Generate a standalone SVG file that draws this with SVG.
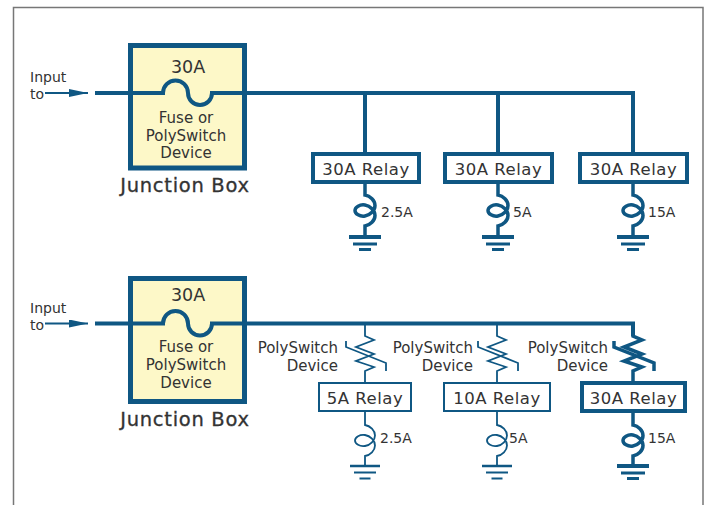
<svg xmlns="http://www.w3.org/2000/svg" width="709" height="505" viewBox="0 0 709 505">
<style>
  text { font-family: "DejaVu Sans", "Liberation Sans", sans-serif; fill: #333; }
  .w { fill: none; stroke: #0f5783; stroke-linejoin: miter; stroke-linecap: butt; }
  .thick { stroke-width: 4; }
  .thin { stroke-width: 1.8; }
  .jbox { fill: #fdf8c8; stroke: #0f5783; stroke-width: 5; }
  .rbox { fill: #fff; stroke: #0f5783; }
  .t15 { font-size: 15px; text-anchor: middle; }
  .t14 { font-size: 14px; }
  .ttl { font-size: 17.5px; text-anchor: middle; }
  .jb { font-size: 19.5px; text-anchor: middle; stroke: #333; stroke-width: 0.3; letter-spacing: 0.7px; }
  .rl { font-size: 16.5px; text-anchor: middle; letter-spacing: 0.5px; }
  .ps { font-size: 15px; text-anchor: end; }
</style>
<defs>
  <marker id="arr" markerUnits="userSpaceOnUse" viewBox="0 0 19 8" refX="19" refY="4" markerWidth="19" markerHeight="8" orient="auto">
    <path d="M0,0 L19,4 L0,8 z" fill="#0f5783"/>
  </marker>
  <path id="coil" d="M0,-21 V-8 C5.24,-7.17 10,-2.52 10,2.5 C10,7.52 5.24,12.17 0,13 C-5.24,13.83 -10,10.86 -10,7.5 C-10,4.14 -5.24,1.17 0,2 C5.24,2.83 10,7.48 10,12.5 C10,17.52 5.24,22.17 0,23 L0,34"/>
  <g id="gnd-thick" fill="none" stroke="#0f5783">
    <path d="M-16,0 H16" stroke-width="4"/>
    <path d="M-12,7 H12" stroke-width="3"/>
    <path d="M-6,12.5 H6" stroke-width="3"/>
  </g>
  <g id="gnd-thin" fill="none" stroke="#0f5783">
    <path d="M-15,0 H15" stroke-width="2.5"/>
    <path d="M-11,6.5 H11" stroke-width="2"/>
    <path d="M-5.5,12.5 H5.5" stroke-width="2"/>
  </g>
  <path id="ptc" d="M0,323.5 V336 L9,340 L-9,347 L9,354 L-9,361 L9,367 L0,371 V382 M-19,341 V347 L21,363 V371"/>
</defs>

<rect x="0" y="0" width="709" height="505" fill="#fff"/>
<path d="M13.5,505 V7.5 H703 V505" fill="none" stroke="#777" stroke-width="1.5"/>

<g id="connectors">
  <path class="w thick" d="M95,93 H163 A12.5,12.5 0 0 1 188,93 A12,12 0 0 0 212,93 H633 V154 M365,93 V154 M498,93 V154"/>
  <path class="w thick" d="M95,323.5 H163 A12.5,12.5 0 0 1 188,323.5 A12,12 0 0 0 212,323.5 H633 V336"/>
  <path d="M45,93 H88" stroke="#0f5783" stroke-width="2" marker-end="url(#arr)"/>
  <path d="M45,323.5 H88" stroke="#0f5783" stroke-width="2" marker-end="url(#arr)"/>
</g>

<g id="input-top">
  <text class="t14" x="30" y="82">Input</text>
  <text class="t14" x="30" y="99">to</text>
</g>
<g id="junction-top">
  <rect class="jbox" x="130.5" y="45.5" width="114" height="122.5"/>
  <path class="w thick" d="M128,93 H163 A12.5,12.5 0 0 1 188,93 A12,12 0 0 0 212,93 H247"/>
  <text class="ttl" x="188" y="72.5">30A</text>
  <text class="t15" x="186" y="123.3">Fuse or</text>
  <text class="t15" x="186" y="140.7">PolySwitch</text>
  <text class="t15" x="186" y="158.3">Device</text>
  <text class="jb" x="185" y="192.3">Junction Box</text>
</g>

<g id="relay-top-1">
  <use href="#coil" class="w thick" x="365" y="203" style="stroke-width:3.5"/>
  <use href="#gnd-thick" x="365" y="237"/>
  <rect class="rbox" x="313" y="154" width="106" height="28" stroke-width="4"/>
  <text class="rl" x="366" y="175">30A Relay</text>
  <text class="t14" x="381" y="217">2.5A</text>
</g>
<g id="relay-top-2">
  <use href="#coil" class="w thick" x="498" y="203" style="stroke-width:3.5"/>
  <use href="#gnd-thick" x="498" y="237"/>
  <rect class="rbox" x="445" y="154" width="107" height="28" stroke-width="4"/>
  <text class="rl" x="498.5" y="175">30A Relay</text>
  <text class="t14" x="513" y="217">5A</text>
</g>
<g id="relay-top-3">
  <use href="#coil" class="w thick" x="633" y="203" style="stroke-width:3.5"/>
  <use href="#gnd-thick" x="633" y="237"/>
  <rect class="rbox" x="580" y="154" width="107" height="28" stroke-width="4"/>
  <text class="rl" x="633.5" y="175">30A Relay</text>
  <text class="t14" x="648" y="217">15A</text>
</g>

<g id="input-bottom">
  <text class="t14" x="30" y="312.5">Input</text>
  <text class="t14" x="30" y="330">to</text>
</g>
<g id="junction-bottom">
  <rect class="jbox" x="130.5" y="278.5" width="114" height="123"/>
  <path class="w thick" d="M128,323.5 H163 A12.5,12.5 0 0 1 188,323.5 A12,12 0 0 0 212,323.5 H247"/>
  <text class="ttl" x="188" y="301">30A</text>
  <text class="t15" x="186" y="352.3">Fuse or</text>
  <text class="t15" x="186" y="370">PolySwitch</text>
  <text class="t15" x="186" y="387.7">Device</text>
  <text class="jb" x="185" y="426">Junction Box</text>
</g>

<g id="relay-bottom-1">
  <use href="#ptc" class="w thin" x="365"/>
  <text class="ps" x="338" y="353.3">PolySwitch</text>
  <text class="ps" x="338" y="370.7">Device</text>
  <rect class="rbox" x="319" y="383" width="92" height="28" stroke-width="2"/>
  <text class="rl" x="365" y="404">5A Relay</text>
  <use href="#coil" class="w thin" x="365" y="433"/>
  <use href="#gnd-thin" x="365" y="466"/>
  <text class="t14" x="380" y="443.3">2.5A</text>
</g>
<g id="relay-bottom-2">
  <use href="#ptc" class="w thin" x="497"/>
  <text class="ps" x="473" y="353.3">PolySwitch</text>
  <text class="ps" x="473" y="370.7">Device</text>
  <rect class="rbox" x="444" y="383" width="106" height="28" stroke-width="2"/>
  <text class="rl" x="497" y="404">10A Relay</text>
  <use href="#coil" class="w thin" x="497" y="433"/>
  <use href="#gnd-thin" x="497" y="466"/>
  <text class="t14" x="509" y="443.3">5A</text>
</g>
<g id="relay-bottom-3">
  <use href="#ptc" class="w thick" x="633" style="stroke-width:3.5"/>
  <text class="ps" x="608" y="353.3">PolySwitch</text>
  <text class="ps" x="608" y="370.7">Device</text>
  <rect class="rbox" x="582" y="383" width="103" height="28" stroke-width="4"/>
  <text class="rl" x="633.5" y="404">30A Relay</text>
  <use href="#coil" class="w thick" x="633" y="433" style="stroke-width:3.5"/>
  <use href="#gnd-thick" x="633" y="466"/>
  <text class="t14" x="648" y="443.3">15A</text>
</g>
</svg>
